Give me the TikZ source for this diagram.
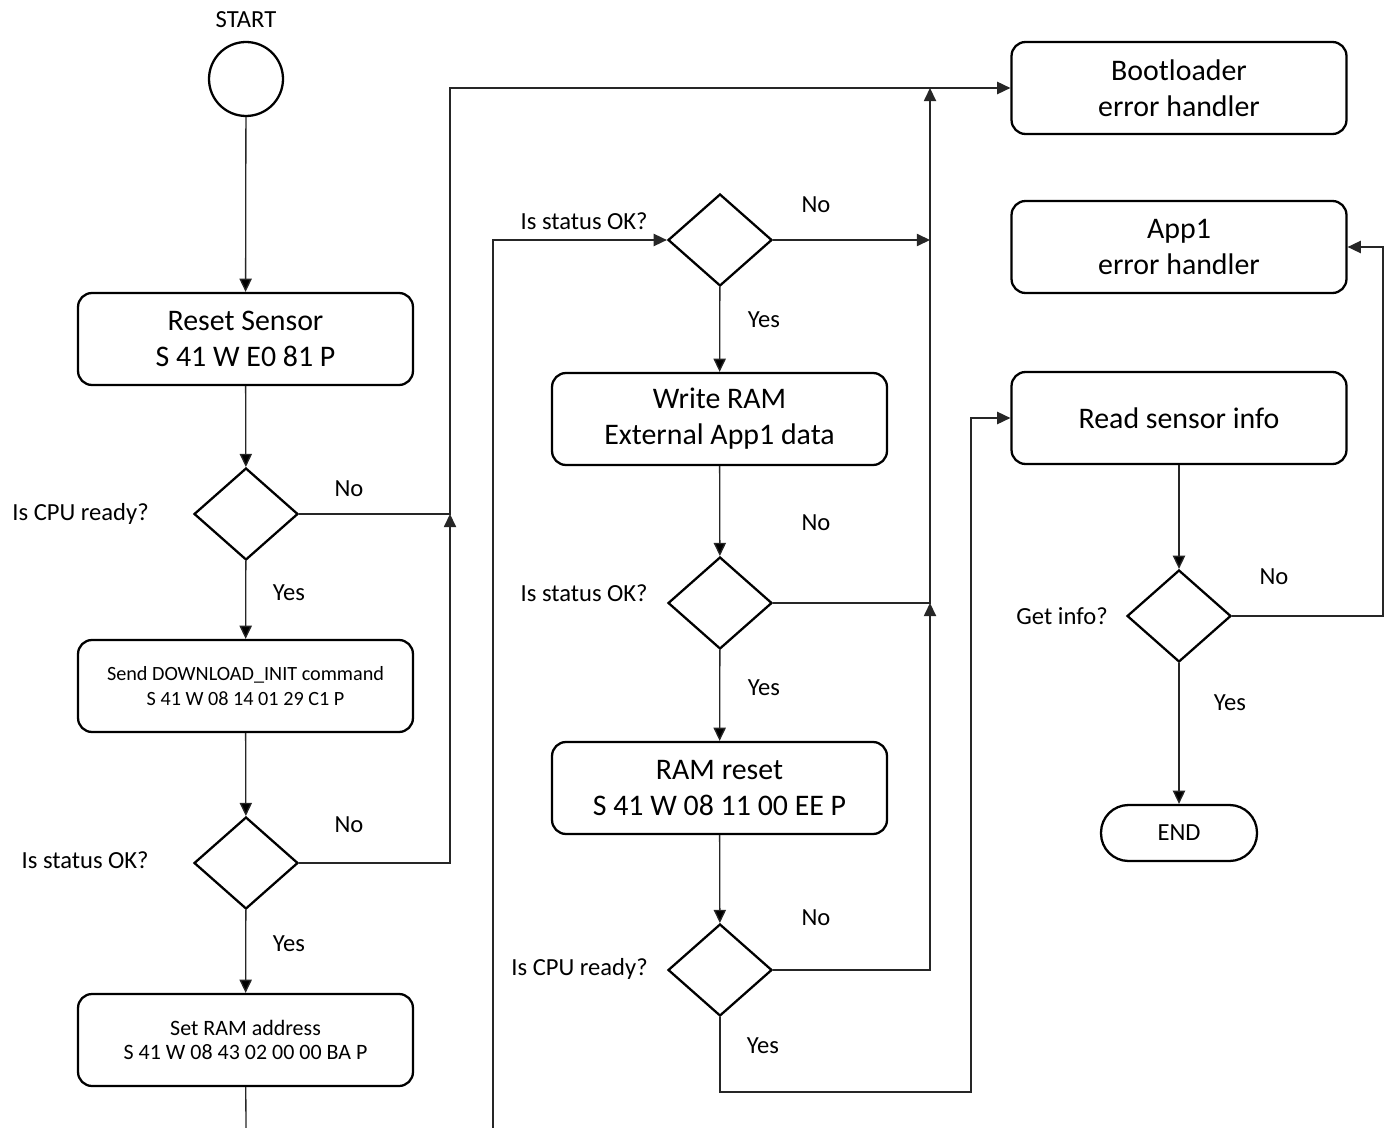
\documentclass[tikz,border=0pt]{standalone}
\usepackage{fontspec}
\setmainfont{Carlito}
\usetikzlibrary{arrows.meta,positioning,shapes.geometric}
\tikzset{
    %Define standard arrow tip
    >={Triangle[length=7.5pt,width=7pt]},
    %Define style for boxes
    procbig/.style={
           rectangle,
           rounded corners=0.28cm,
           draw=black, line width=1.3pt,
           minimum width=6.7cm,
           minimum height=1.84cm,
           align=center,
           font=\fontsize{17}{20.5}\selectfont},
    procsmall/.style={
           procbig,
           font=\fontsize{11.5}{13.8}\selectfont},
    decision/.style={
           diamond,
           draw=black, line width=1.3pt,
           inner sep=0pt,
           minimum width=2.08cm,
           minimum height=1.84cm},
    terminal/.style={
           circle,
           draw=black, line width=1.3pt,
           minimum size=1.48cm},
    endbox/.style={
           rectangle,
           rounded corners=0.55cm,
           draw=black, line width=1.3pt,
           minimum width=3.12cm,
           minimum height=1.12cm,
           font=\fontsize{14}{16}\selectfont},
    txt/.style={
           inner sep=0pt,
           font=\fontsize{14}{16}\selectfont},
    % Define arrow style
    conn/.style={
           line width=0.75pt,
           draw=black!85}
}
\begin{document}
\begin{tikzpicture}[x=0.02cm,y=-0.02cm]
\useasboundingbox (0,0) rectangle (1392,1128);
 %nodes, left column
\node[txt] (starttxt) at (246,20) {START};
\node[terminal] (start) at (246,79) {};
\node[procbig] (reset) at (245.5,339) {Reset Sensor\\S 41 W E0 81 P};
\node[decision] (cpu1) at (246,514) {};
\node[procsmall] (dlinit) at (245.5,686) {Send DOWNLOAD\_INIT command\\S 41 W 08 14 01 29 C1 P};
\node[decision] (stat1) at (246,863) {};
\node[procsmall, font=\fontsize{12.5}{14}\selectfont] (ramaddr) at (245.5,1040) {Set RAM address\\S 41 W 08 43 02 00 00 BA P};
 %nodes, middle column
\node[decision] (stat2) at (720,240) {};
\node[procbig] (wram) at (719.5,419) {Write RAM\\External App1 data};
\node[decision] (stat3) at (720,603) {};
\node[procbig] (ramreset) at (719.5,788) {RAM reset\\S 41 W 08 11 00 EE P};
\node[decision] (cpu2) at (720,970) {};
 %nodes, right column
\node[procbig] (boot) at (1179,88) {Bootloader\\error handler};
\node[procbig] (app1) at (1179,247) {App1\\error handler};
\node[procbig] (info) at (1179,418) {Read sensor info};
\node[decision] (getinfo) at (1179,616) {};
\node[endbox] (end) at (1179,833) {END};
 %labels
\node[txt, anchor=east] (q1) at (149,514) {Is CPU ready?};
\node[txt] (no1) at (349,489) {No};
\node[txt] (yes1) at (289,593) {Yes};
\node[txt, anchor=east] (q2) at (149,860) {Is status OK?};
\node[txt] (no2) at (349,825) {No};
\node[txt] (yes2) at (289,944) {Yes};
\node[txt, anchor=east] (q3) at (648,221) {Is status OK?};
\node[txt] (no3) at (816,205) {No};
\node[txt] (yes3) at (764,320) {Yes};
\node[txt, anchor=east] (q4) at (648,593) {Is status OK?};
\node[txt] (no4) at (816,523) {No};
\node[txt] (yes4) at (764,688) {Yes};
\node[txt, anchor=east] (q5) at (648,969) {Is CPU ready?};
\node[txt] (no5) at (816,918) {No};
\node[txt] (yes5) at (763,1046) {Yes};
\node[txt, anchor=east] (q6) at (1108,616) {Get info?};
\node[txt] (no6) at (1274,577) {No};
\node[txt] (yes6) at (1230,703) {Yes};
 %junctions
\coordinate (out1) at (246,1128);
\coordinate (in2) at (493,1128);
\coordinate (j1) at (450,88);
\coordinate (j2) at (930,88);
\coordinate (j3) at (971,1092);
\coordinate (j4) at (1383,616);
 %connectors
\path[conn,->]
    (start) edge (reset)
    (reset) edge (cpu1)
    (cpu1) edge (dlinit)
    (dlinit) edge (stat1)
    (stat1) edge (ramaddr)
    (stat2) edge (wram)
    (wram) edge (stat3)
    (stat3) edge (ramreset)
    (ramreset) edge (cpu2)
    (info) edge (getinfo)
    (getinfo) edge (end);
\draw[conn] (ramaddr) -- (out1);
\draw[conn,->] (cpu1.east) -| (j1) -- (boot.west);
\draw[conn,->] (stat1.east) -| (cpu1.east -| j1);
\draw[conn,->] (in2) |- (stat2.west);
\draw[conn,->] (stat2.east) -- (stat2.east -| j2);
\draw[conn,->] (stat3.east) -| (j2);
\draw[conn,->] (cpu2.east) -| (stat3.east -| j2);
\draw[conn,->] (cpu2.south) |- (j3) |- (info.west);
\draw[conn,->] (getinfo.east) -- (j4) |- (app1.east);
\end{tikzpicture}
\end{document}
